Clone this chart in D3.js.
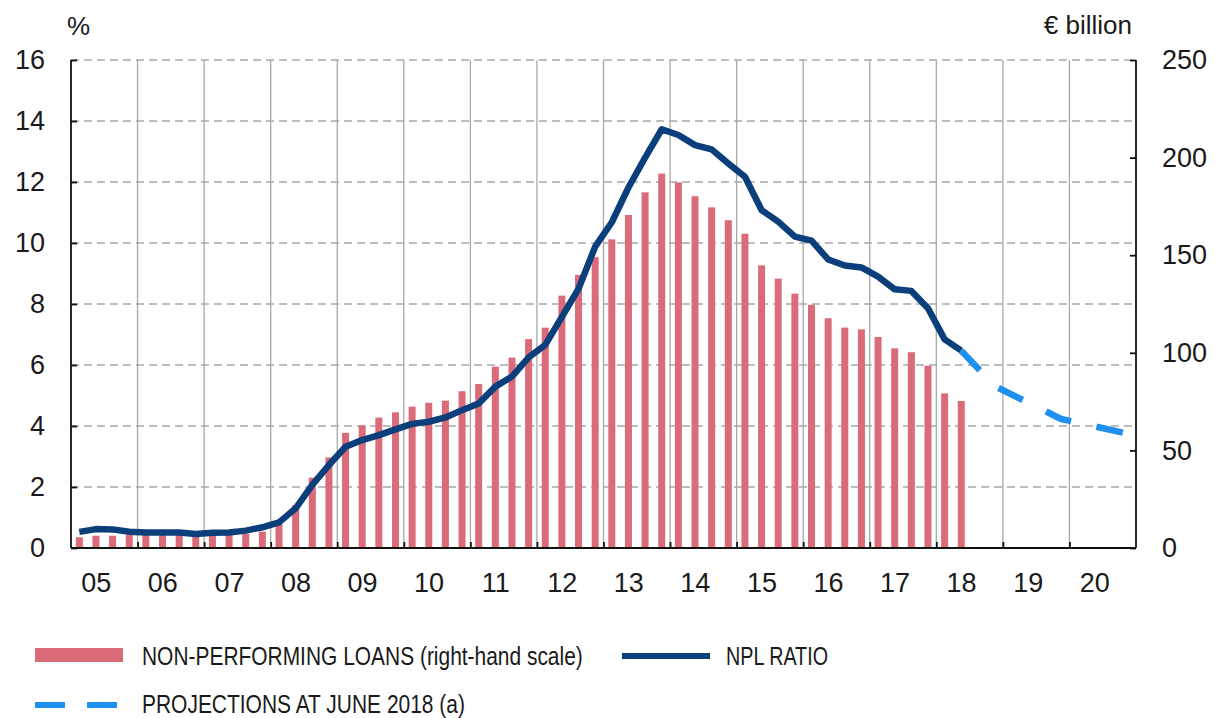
<!DOCTYPE html>
<html>
<head>
<meta charset="utf-8">
<script src="https://cdn.jsdelivr.net/npm/d3@7"></script>
<style>
  html, body { margin: 0; padding: 0; background: #fff; }
  svg { display: block; font-family: "Liberation Sans", Arial, Helvetica, sans-serif; }
</style>
</head>
<body>
<svg id="chart" width="1215" height="718"></svg>
<script>
// ---- data ----
const yearLabels = ["05","06","07","08","09","10","11","12","13","14","15","16","17","18","19","20"];
const leftTicks = [0, 2, 4, 6, 8, 10, 12, 14, 16];
const rightTicks = [0, 50, 100, 150, 200, 250];
// Non-performing loans, € billion, quarterly 2005Q1 - 2018Q2 (right-hand scale)
const nplLoans = [
  5.5, 6.3, 6.3, 6.8,
  6.8, 6.8, 6.8, 6.8,
  6.8, 7.0, 7.2, 8.4,
  12.3, 22.0, 36.0, 46.4,
  59.0, 62.8, 66.8, 69.5,
  72.4, 74.4, 75.5, 80.3,
  84.0, 92.9, 97.5, 107.0,
  112.9, 129.3, 139.9, 149.0,
  158.1, 170.6, 182.2, 191.8,
  187.3, 180.2, 174.5, 167.9,
  161.0, 144.8, 138.0, 130.3,
  124.6, 117.7, 112.9, 112.0,
  108.1, 102.3, 100.3, 93.4,
  79.2, 75.3
];
// NPL ratio, %, quarterly 2005Q1 - 2018Q2
const nplRatio = [
  0.53, 0.62, 0.61, 0.53,
  0.51, 0.51, 0.51, 0.46,
  0.50, 0.51, 0.57, 0.68,
  0.84, 1.30, 2.07, 2.72,
  3.32, 3.54, 3.70, 3.89,
  4.07, 4.14, 4.28, 4.52,
  4.74, 5.29, 5.62, 6.25,
  6.66, 7.58, 8.50, 9.88,
  10.68, 11.82, 12.80, 13.73,
  13.54, 13.21, 13.07, 12.61,
  12.17, 11.08, 10.70, 10.21,
  10.08, 9.46, 9.26, 9.20,
  8.90, 8.48, 8.43, 7.86,
  6.84, 6.47
];
// Projections at June 2018: quarter index (0 = 2005Q1) and ratio
const projQuarter = [53, 55, 59, 63];
const projValue = [6.47, 5.31, 4.23, 3.75];
const legendLabels = ["NON-PERFORMING LOANS (right-hand scale)", "NPL RATIO", "PROJECTIONS AT JUNE 2018 (a)"];

// ---- layout ----
const svg = d3.select("#chart");
const X0 = 71, X1 = 1136, Y0 = 548, Y1 = 60;
const nQuarters = yearLabels.length * 4;
const x = d3.scaleLinear().domain([0, nQuarters]).range([X0, X1]);
const yL = d3.scaleLinear().domain([0, 16]).range([Y0, Y1]);
const yR = d3.scaleLinear().domain([0, 250]).range([Y0, Y1]);
const barW = 7;

const NAVY = "#0b3f7c", RED = "#dc6b79", BLUE = "#1f8ff0", GRID = "#a8a8a8";

// grid: horizontal dashed
svg.append("g").selectAll("line").data(leftTicks.filter(d => d > 0)).join("line")
  .attr("x1", X0).attr("x2", X1)
  .attr("y1", d => yL(d)).attr("y2", d => yL(d))
  .attr("stroke", GRID).attr("stroke-width", 1.3).attr("stroke-dasharray", "8,5");
// grid: vertical at year boundaries
const yearBounds = d3.range(1, yearLabels.length).map(i => i * 4);
svg.append("g").selectAll("line").data(yearBounds).join("line")
  .attr("x1", d => x(d)).attr("x2", d => x(d))
  .attr("y1", Y1).attr("y2", Y0)
  .attr("stroke", GRID).attr("stroke-width", 1.3);

// bars
svg.append("g").selectAll("rect").data(nplLoans).join("rect")
  .attr("x", (d, i) => x(i + 0.5) - barW / 2)
  .attr("width", barW)
  .attr("y", d => yR(d))
  .attr("height", d => Y0 - yR(d))
  .attr("fill", RED);

// axes
const axL = d3.axisLeft(yL).tickValues(leftTicks).tickSize(-6).tickPadding(26).tickFormat(d3.format("d"));
const axR = d3.axisRight(yR).tickValues(rightTicks).tickSize(-6).tickPadding(26).tickFormat(d3.format("d"));
const axB = d3.axisBottom(x).tickValues(yearBounds).tickSize(-6).tickFormat("");

function styleAxis(g) {
  g.select(".domain").attr("stroke", "#111").attr("stroke-width", 1.8);
  g.selectAll(".tick line").attr("stroke", "#111").attr("stroke-width", 1.8);
  g.selectAll(".tick text").attr("fill", "#1a1a1a").style("font-size", "27px");
}
const gL = svg.append("g").attr("transform", `translate(${X0},0)`).call(axL);
gL.select(".domain").attr("d", `M0,${Y1}V${Y0}`);
styleAxis(gL);
const gR = svg.append("g").attr("transform", `translate(${X1},0)`).call(axR);
gR.select(".domain").attr("d", `M0,${Y1}V${Y0}`);
styleAxis(gR);
const gB = svg.append("g").attr("transform", `translate(0,${Y0})`).call(axB);
gB.select(".domain").attr("d", `M${X0},0H${X1}`);
styleAxis(gB);

// year labels
svg.append("g").selectAll("text").data(yearLabels).join("text")
  .attr("x", (d, i) => x(i * 4 + 2) - 8)
  .attr("y", 592)
  .attr("text-anchor", "middle")
  .attr("fill", "#1a1a1a")
  .style("font-size", "27px")
  .text(d => d);

// unit labels
svg.append("text").attr("x", 67).attr("y", 35).attr("fill", "#1a1a1a").style("font-size", "26px").text("%");
svg.append("text").attr("x", 1132).attr("y", 34).attr("text-anchor", "end").attr("fill", "#1a1a1a").style("font-size", "26px").text("€ billion");

// NPL ratio line
const line = d3.line().x(d => x(d.q + 0.5)).y(d => yL(d.v));
svg.append("path")
  .datum(nplRatio.map((v, i) => ({ q: i, v })))
  .attr("d", line)
  .attr("fill", "none").attr("stroke", NAVY).attr("stroke-width", 6.5)
  .attr("stroke-linejoin", "round").attr("stroke-linecap", "butt");

// projections
svg.append("path")
  .datum(projQuarter.map((q, i) => ({ q, v: projValue[i] })))
  .attr("d", line)
  .attr("fill", "none").attr("stroke", BLUE).attr("stroke-width", 6.5)
  .attr("stroke-dasharray", "27,26").attr("stroke-linejoin", "round");

// legend
const lg = svg.append("g").attr("fill", "#1a1a1a");
lg.append("rect").attr("x", 35).attr("y", 648).attr("width", 88).attr("height", 14).attr("fill", RED);
lg.append("line").attr("x1", 622).attr("x2", 710).attr("y1", 656).attr("y2", 656)
  .attr("stroke", NAVY).attr("stroke-width", 6);
lg.append("line").attr("x1", 35).attr("x2", 117).attr("y1", 705).attr("y2", 705)
  .attr("stroke", BLUE).attr("stroke-width", 6).attr("stroke-dasharray", "30,22");

// condensed legend labels: scale horizontally to the reference widths
function condensedText(str, x0, y0, targetW) {
  const t = lg.append("text").attr("x", 0).attr("y", 0).style("font-size", "26px").text(str);
  const w = t.node().getComputedTextLength();
  t.attr("transform", `translate(${x0},${y0}) scale(${targetW / w},1)`);
}
condensedText(legendLabels[0], 142, 665, 441);
condensedText(legendLabels[1], 726, 665, 102);
condensedText(legendLabels[2], 142, 713, 323);
</script>
</body>
</html>
